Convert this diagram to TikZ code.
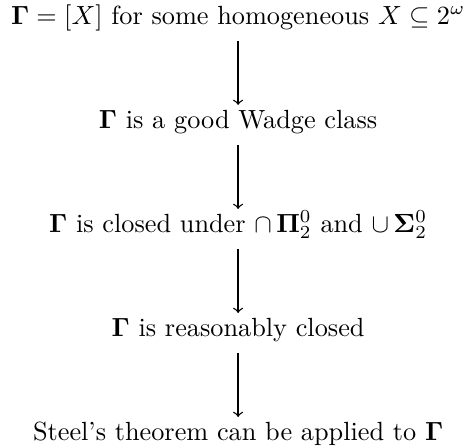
\documentclass[tikz,border=0pt]{standalone}
\usepackage{amssymb,amsmath,bm}
\usetikzlibrary{positioning,calc}

\begin{document}
\begin{tikzpicture}[node distance=24.3pt,
  stmt/.style={inner xsep=0pt,inner ysep=4pt,text height=1.1ex,text depth=.5ex},
  impl/.style={->,line width=.5pt}]

% Implication chain
\node[stmt] (hom) {$\bm{\Gamma}=[X]$ for some homogeneous $X\subseteq 2^\omega$};
\node[stmt,below=of hom] (good) {$\bm{\Gamma}$ is a good Wadge class};
\node[stmt,below=of good] (clos) {$\bm{\Gamma}$ is closed under $\cap\,\bm{\Pi}^0_2$ and $\cup\,\bm{\Sigma}^0_2$};
\node[stmt,below=of clos] (reas) {$\bm{\Gamma}$ is reasonably closed};
\node[stmt,below=of reas] (steel) {Steel's theorem can be applied to $\bm{\Gamma}$};

\draw[impl] (hom) -- (good);
\draw[impl] (good) -- (clos);
\draw[impl] (clos) -- (reas);
\draw[impl] (reas) -- (steel);

% Margins
\pgfresetboundingbox
\useasboundingbox ($(hom.west |- hom.base)+(-4pt,9.3pt)$) rectangle ($(hom.east |- steel.base)+(2pt,-2pt)$);
\end{tikzpicture}
\end{document}
